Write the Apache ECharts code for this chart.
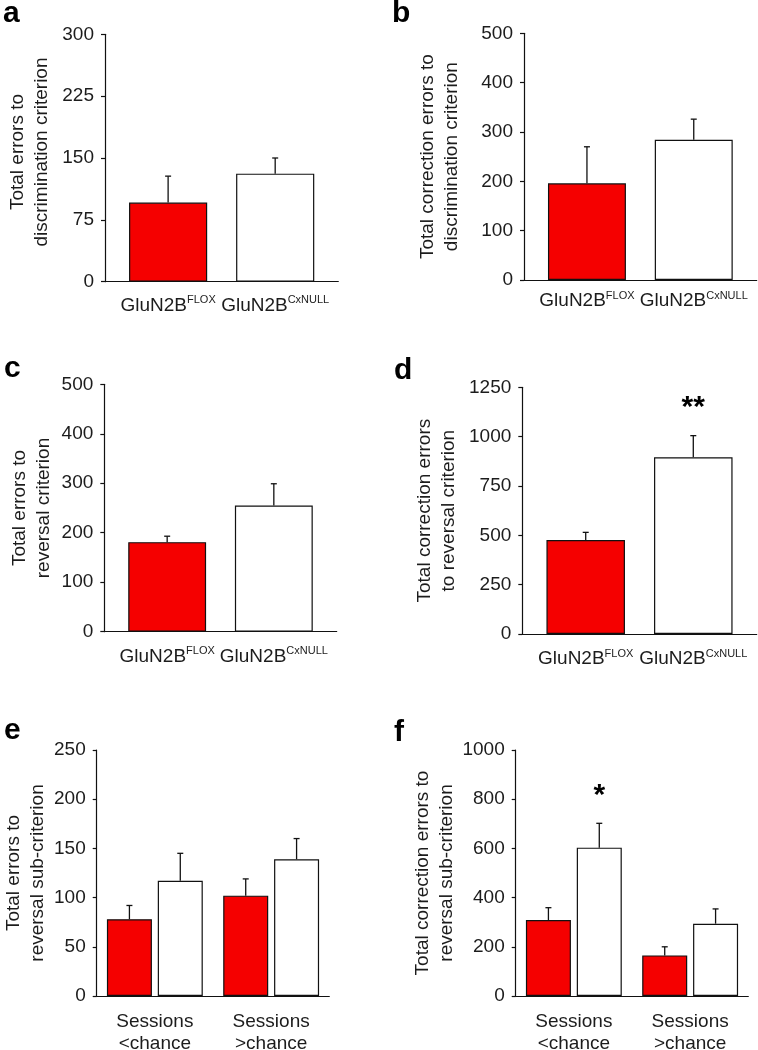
<!DOCTYPE html>
<html><head><meta charset="utf-8">
<script src="https://cdn.jsdelivr.net/npm/echarts@6/dist/echarts.min.js"></script>
<style>html,body{margin:0;padding:0;background:#fff}#c{width:758px;height:1050px}</style>
</head><body><div id="c"></div>
<script>
// ---------- data ----------
const genotypeBase = ['GluN2B', 'GluN2B'];
const genotypeSup = ['FLOX', 'CxNULL'];
const sessionCats = ['Sessions\n<chance', 'Sessions\n>chance'];

const aFlox = [96],  aFloxErr = [32],  aNull = [131], aNullErr = [19];
const bFlox = [196], bFloxErr = [74],  bNull = [284], bNullErr = [42];
const cFlox = [181], cFloxErr = [12],  cNull = [255], cNullErr = [44];
const dFlox = [476], dFloxErr = [39],  dNull = [895], dNullErr = [110];
const dNullSig = ['**'];
const eFlox = [78, 102],  eFloxErr = [14, 17], eNull = [117, 139], eNullErr = [28, 21];
const fFlox = [309, 165], fFloxErr = [50, 35], fNull = [603, 294], fNullErr = [99, 60];
const fNullSig = ['*', ''];

const yMax = [300, 500, 500, 1250, 250, 1000];
const yInterval = [75, 100, 100, 250, 50, 200];
const yNames = [
  'Total errors to\ndiscrimination criterion',
  'Total correction errors to\ndiscrimination criterion',
  'Total errors to\nreversal criterion',
  'Total correction errors\nto reversal criterion',
  'Total errors to\nreversal sub-criterion',
  'Total correction errors to\nreversal sub-criterion'
];
const letters = ['a', 'b', 'c', 'd', 'e', 'f'];

// ---------- layout ----------
const font = '"Liberation Sans", Arial, Helvetica, sans-serif';
const textColor = '#1c1c1c';
const lineColor = '#111';
const panels = [
  {lx: 3,   ly: -1,  left: 105,   top: 34.3,  width: 233.3, height: 247.4, nameGap: 51, mode: 'single', labelMargin: 13, namePad: [0, 0, 0, 12],
   flox: aFlox, floxErr: aFloxErr, nul: aNull, nulErr: aNullErr, sig: null},
  {lx: 392, ly: -1,  left: 524,   top: 33.3,  width: 232.7, height: 246.7, nameGap: 60, mode: 'single', labelMargin: 10, namePad: [0, 0, 0, 0],
   flox: bFlox, floxErr: bFloxErr, nul: bNull, nulErr: bNullErr, sig: null},
  {lx: 4,   ly: 354, left: 104.3, top: 384.3, width: 232.4, height: 247.4, nameGap: 49, mode: 'single', labelMargin: 14, namePad: [0, 0, 0, 0],
   flox: cFlox, floxErr: cFloxErr, nul: cNull, nulErr: cNullErr, sig: null},
  {lx: 394, ly: 356, left: 522.3, top: 387.3, width: 234.4, height: 246.7, nameGap: 62, mode: 'single', labelMargin: 14, namePad: [0, 0, 0, 0],
   flox: dFlox, floxErr: dFloxErr, nul: dNull, nulErr: dNullErr, sig: dNullSig},
  {lx: 4,   ly: 716, left: 96.7,  top: 750,   width: 232.6, height: 246,   nameGap: 43, mode: 'paired', labelMargin: 15, namePad: [0, 0, 0, 0],
   flox: eFlox, floxErr: eFloxErr, nul: eNull, nulErr: eNullErr, sig: null},
  {lx: 394, ly: 718, left: 515.7, top: 750,   width: 232.6, height: 246,   nameGap: 55, mode: 'paired', labelMargin: 15, namePad: [0, 0, 0, 0],
   flox: fFlox, floxErr: fFloxErr, nul: fNull, nulErr: fNullErr, sig: fNullSig}
];

function makeErr(bw, gap, n, si, sig) {
  return function (params, api) {
    const cat = api.value(0), v = api.value(1), e = api.value(2);
    const base = api.coord([cat, v]);
    const top = api.coord([cat, v + e]);
    const band = api.size([1, 0])[0];
    const w = bw * band, g = gap * w;
    const total = n * w + (n - 1) * g;
    const x = base[0] - total / 2 + w / 2 + si * (w + g);
    const children = [
      {type: 'line', shape: {x1: x, y1: base[1], x2: x, y2: top[1]}, style: {stroke: lineColor, lineWidth: 1.3}},
      {type: 'line', shape: {x1: x - 3, y1: top[1], x2: x + 3, y2: top[1]}, style: {stroke: lineColor, lineWidth: 1.3}}
    ];
    const s = sig ? sig[params.dataIndex] : '';
    if (s) {
      children.push({type: 'text', style: {text: s, x: x, y: top[1] - 28, align: 'center', verticalAlign: 'middle',
        font: 'bold 30px ' + font, fill: '#000'}});
    }
    return {type: 'group', children: children};
  };
}

const grid = [], xAxis = [], yAxis = [], series = [], title = [];
panels.forEach((p, k) => {
  const single = p.mode === 'single';
  const bw = single ? 0.335 : 0.387;
  const gap = single ? 0.37 : 0.13;
  const gi = grid.length;
  grid.push({left: p.left, top: p.top, width: p.width, height: p.height, containLabel: false, outerBoundsMode: 'none'});
  xAxis.push({gridIndex: gi, type: 'category', data: single ? ['all'] : sessionCats,
    axisLine: {show: true, lineStyle: {color: lineColor, width: 1.2}}, axisTick: {show: false},
    axisLabel: {show: !single, interval: 0, margin: p.labelMargin, fontSize: 19, lineHeight: 22, color: textColor, fontFamily: font}});
  yAxis.push({gridIndex: gi, type: 'value', min: 0, max: yMax[k], interval: yInterval[k],
    axisLine: {show: true, lineStyle: {color: lineColor, width: 1.2}},
    axisTick: {show: true, length: 4, inside: false, lineStyle: {color: lineColor, width: 1.2}},
    splitLine: {show: false},
    axisLabel: {margin: 11, fontSize: 19, color: textColor, fontFamily: font, formatter: v => String(v)},
    name: yNames[k], nameLocation: 'middle', nameRotate: 90, nameGap: p.nameGap,
    nameTextStyle: {fontSize: 19, lineHeight: 24, color: textColor, fontFamily: font, padding: p.namePad}});
  const xi = xAxis.length - 1, yi = yAxis.length - 1;
  const defs = [
    {vals: p.flox, errs: p.floxErr, color: '#f50000', sig: null},
    {vals: p.nul, errs: p.nulErr, color: '#ffffff', sig: p.sig}
  ];
  defs.forEach(d => {
    series.push({type: 'bar', xAxisIndex: xi, yAxisIndex: yi, data: d.vals, silent: true,
      barWidth: (bw * 100) + '%', barGap: (gap * 100) + '%',
      itemStyle: {color: d.color, borderColor: lineColor, borderWidth: 1.2}});
  });
  defs.forEach((d, si) => {
    series.push({type: 'custom', xAxisIndex: xi, yAxisIndex: yi, z: 5, silent: true,
      data: d.vals.map((v, i) => [i, v, d.errs[i]]),
      renderItem: makeErr(bw, gap, 2, si, d.sig)});
  });
  if (single) {
    const s = bw * p.width * (1 + gap) / 2;
    const cx = p.left + p.width / 2;
    const gi2 = grid.length;
    grid.push({left: cx - 2 * s, top: p.top, width: 4 * s, height: p.height, containLabel: false, outerBoundsMode: 'none'});
    xAxis.push({gridIndex: gi2, type: 'category',
      data: genotypeBase.map((b, i) => '{b|' + b + '}{s|' + genotypeSup[i] + '}'),
      axisLine: {show: false}, axisTick: {show: false},
      axisLabel: {interval: 0, margin: p.labelMargin, color: textColor,
        rich: {
          b: {fontSize: 19, lineHeight: 22, fontFamily: font, color: textColor},
          s: {fontSize: 11, lineHeight: 22, fontFamily: font, color: textColor, verticalAlign: 'top', padding: [0, 0, 7, 0]}
        }}});
    yAxis.push({gridIndex: gi2, type: 'value', show: false, min: 0, max: 1});
  }
  title.push({text: letters[k], left: p.lx, top: p.ly, padding: 0,
    textStyle: {fontSize: 30, fontWeight: 'bold', color: '#000', fontFamily: font}});
});

const chart = echarts.init(document.getElementById('c'), null, {renderer: 'canvas'});
chart.setOption({animation: false, backgroundColor: '#fff', title, grid, xAxis, yAxis, series});
</script>
</body></html>
